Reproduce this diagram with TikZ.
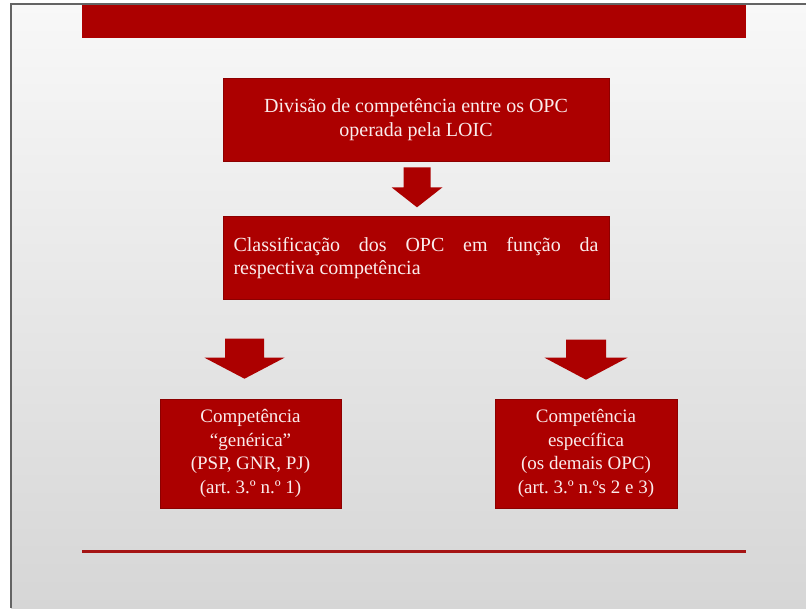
\documentclass[tikz,border=0pt]{standalone}
\usepackage{fontspec}
\setmainfont{Liberation Serif}
\usepackage{xcolor}
\usepackage{tikz}
\usetikzlibrary{positioning, calc}
\definecolor{boxred}{RGB}{172,0,0}
\definecolor{boxedge}{RGB}{140,0,0}
\definecolor{boxtext}{RGB}{250,236,236}
\definecolor{bgtop}{RGB}{248,248,248}
\definecolor{bgbottom}{RGB}{214,214,214}
\definecolor{framegray}{RGB}{100,100,100}
\definecolor{rulered}{RGB}{165,20,20}
\frenchspacing

\begin{document}
\begin{tikzpicture}[
    x=1pt, y=-1pt,
    box/.style={fill=boxred, draw=boxedge, line width=0.6pt, text=boxtext, inner sep=0pt, align=center},
    bigbox/.style={box, minimum width=386pt, minimum height=83pt, font=\fontsize{20}{23.5}\selectfont},
    smallbox/.style={box, minimum width=181pt, minimum height=109pt, font=\fontsize{19}{23.5}\selectfont},
    blockarrow/.style={fill=boxred},
    bar/.style={fill=boxred, inner sep=0pt, minimum width=664pt},
  ]
  \useasboundingbox (0,0) rectangle (806,608);
  % background and frame
  \fill[white] (0,0) rectangle (806,608);
  \shade[top color=bgtop, bottom color=bgbottom] (11,4) rectangle (806,608);
  \draw[framegray, line width=1.6pt] (11,608) -- (11,4) -- (806,4);

  % title bar and bottom rule
  \node[bar, minimum height=33pt] (topbar) at (414,21.5) {};
  \node[bar, minimum height=3pt, fill=rulered] (botrule) at (414,551.5) {};

  % boxes
  \node[bigbox] (divisao) at (416,119.5) {Divisão de competência entre os OPC\\operada pela LOIC};
  \node[bigbox, below=55pt of divisao, align=justify, text width=365pt] (classif)
    {Classificação dos OPC em função da\linebreak respectiva competência};
  \node[smallbox] (generica) at (250.5,453.5) {Competência\\“genérica”\\(PSP, GNR, PJ)\\(art. 3.º n.º 1)};
  \node[smallbox, minimum width=182pt] (especifica) at (586,453.5) {Competência\\específica\\(os demais OPC)\\(art. 3.º n.ºs 2 e 3)};

  % block arrows
  \fill[blockarrow] ($(divisao.south)+(-12.5,6)$) -- ++(27,0) -- ++(0,20) -- ++(12,0)
    -- ++(-25.5,20) -- ++(-25.5,-20) -- ++(12,0) -- cycle;
  \fill[blockarrow] ($(generica.north)+(-25.5,-60)$) -- ++(39,0) -- ++(0,19) -- ++(20.5,0)
    -- ++(-40,21) -- ++(-40,-21) -- ++(20.5,0) -- cycle;
  \fill[blockarrow] ($(especifica.north)+(-20,-59)$) -- ++(40,0) -- ++(0,18) -- ++(21.5,0)
    -- ++(-41.5,22) -- ++(-41.5,-22) -- ++(21.5,0) -- cycle;
\end{tikzpicture}
\end{document}
